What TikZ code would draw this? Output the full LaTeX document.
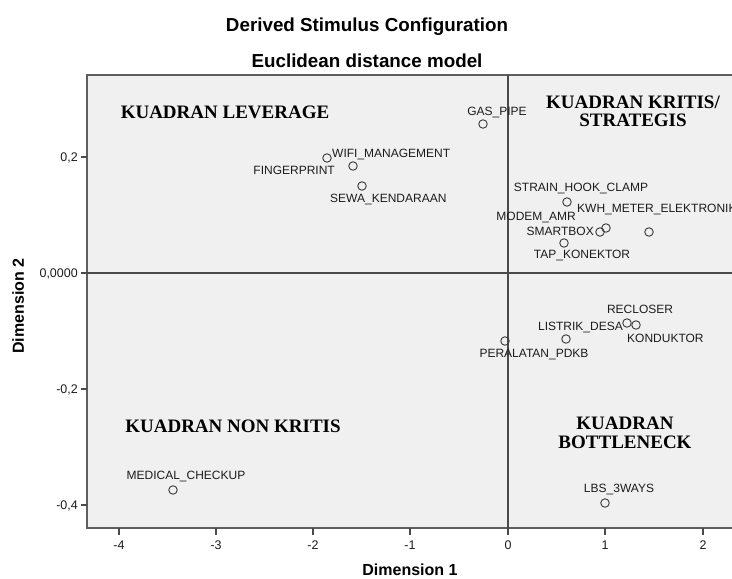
\documentclass[tikz,border=0pt]{standalone}
\usepackage{fontspec}
\setmainfont{Liberation Sans}
\newfontfamily\quadfont{Liberation Serif}
\definecolor{bgc}{HTML}{F0F0F0}
\definecolor{framec}{HTML}{5E5E5E}
\definecolor{axisc}{HTML}{4A4A4A}
\definecolor{ptc}{HTML}{3A3A3A}
\definecolor{labc}{HTML}{1C1C1C}
\tikzset{
  frameline/.style={draw=framec, line width=1.6bp, fill=bgc},
  axisline/.style={draw=axisc, line width=1.5bp},
  tickline/.style={draw=axisc, line width=1.2bp},
  pt/.style={circle, draw=ptc, line width=0.9bp, minimum size=8.5bp, inner sep=0pt},
  lab/.style={font=\fontsize{12bp}{14bp}\selectfont, text=labc, inner sep=0pt, text height=8.6bp, text depth=0pt},
  ticklab/.style={font=\fontsize{12.5bp}{14bp}\selectfont, text=labc, inner sep=0pt, text height=9bp, text depth=0pt},
  quad/.style={font=\quadfont\bfseries\fontsize{19bp}{19bp}\selectfont, text=black, inner sep=0pt, text height=12.6bp, text depth=0pt},
  ttl/.style={font=\bfseries\fontsize{18.8bp}{20bp}\selectfont, text=black, inner sep=0pt, text height=13.5bp, text depth=0pt},
  axttl/.style={font=\bfseries\fontsize{16bp}{18bp}\selectfont, text=black, inner sep=0pt, text height=11.5bp, text depth=0pt}
}
\begin{document}
\begin{tikzpicture}[x=1bp,y=-1bp]
\useasboundingbox (0,0) rectangle (732,579);
\clip (0,0) rectangle (732,579);
\fill[white] (0,0) rectangle (732,579);
% titles
\node[ttl] (title1) at (367,25) {Derived Stimulus Configuration};
\node[ttl] (title2) at (367,61) {Euclidean distance model};
% frame
\coordinate (TL) at (87,75);
\coordinate (BR) at (745,528);
\draw[frameline] (TL) rectangle (BR);
% axes through origin
\coordinate (vtop) at (508,75);
\coordinate (vbot) at (508,528);
\coordinate (hleft) at (87,273);
\coordinate (hright) at (745,273);
\draw[axisline] (vtop) -- (vbot);
\draw[axisline] (hleft) -- (hright);
% y ticks
\foreach \y/\t [count=\i] in {157/{0,2}, 273/{0,0000}, 389/{-0,2}, 505/{-0,4}}{
  \coordinate (yt\i a) at (81,\y);
  \coordinate (yt\i b) at (87,\y);
  \draw[tickline] (yt\i a) -- (yt\i b);
  \node[ticklab, anchor=east] (ytl\i) at (78,\y) {\t};
}
% x ticks
\foreach \x/\t [count=\i] in {119/-4, 216/-3, 313/-2, 410/-1, 508/0, 605/1, 703/2}{
  \coordinate (xt\i a) at (\x,528);
  \coordinate (xt\i b) at (\x,535);
  \draw[tickline] (xt\i a) -- (xt\i b);
  \node[ticklab] (xtl\i) at (\x,545) {\t};
}
% axis titles
\node[axttl] (dim1) at (410,570) {Dimension 1};
\node[axttl, rotate=90] (dim2) at (18,306) {Dimension 2};
% quadrant labels
\node[quad] (qlev) at (225,112) {KUADRAN LEVERAGE};
\node[quad] (qkri1) at (633,102) {KUADRAN KRITIS/};
\node[quad] (qkri2) at (633,120) {STRATEGIS};
\node[quad] (qnon) at (233,426) {KUADRAN NON KRITIS};
\node[quad] (qbot1) at (625,423) {KUADRAN};
\node[quad] (qbot2) at (625,442) {BOTTLENECK};
% points
\node[pt] (p1) at (483,124) {};
\node[pt] (p2) at (327,158) {};
\node[pt] (p3) at (353,166) {};
\node[pt] (p4) at (362,186) {};
\node[pt] (p5) at (567,202) {};
\node[pt] (p6) at (600,232) {};
\node[pt] (p7) at (606,228) {};
\node[pt] (p8) at (649,232) {};
\node[pt] (p9) at (564,243) {};
\node[pt] (p10) at (627,323) {};
\node[pt] (p11) at (636,325) {};
\node[pt] (p12) at (566,339) {};
\node[pt] (p13) at (505,341) {};
\node[pt] (p14) at (173,490) {};
\node[pt] (p15) at (605,503) {};
% point labels
\node[lab] (l1) at (497,111) {GAS\_PIPE};
\node[lab, anchor=west] (l2) at (332,153) {WIFI\_MANAGEMENT};
\node[lab, anchor=east] (l3) at (335,170) {FINGERPRINT};
\node[lab, anchor=west] (l4) at (330,198) {SEWA\_KENDARAAN};
\node[lab] (l5) at (581,187) {STRAIN\_HOOK\_CLAMP};
\node[lab, anchor=east] (l6) at (576,216) {MODEM\_AMR};
\node[lab, anchor=west] (l7) at (577,208) {KWH\_METER\_ELEKTRONIK};
\node[lab, anchor=east] (l8) at (594,231) {SMARTBOX};
\node[lab] (l9) at (582,254) {TAP\_KONEKTOR};
\node[lab] (l10) at (640,309) {RECLOSER};
\node[lab, anchor=east] (l11) at (623,326) {LISTRIK\_DESA};
\node[lab, anchor=west] (l12) at (627,338) {KONDUKTOR};
\node[lab] (l13) at (534,353) {PERALATAN\_PDKB};
\node[lab] (l14) at (186,475) {MEDICAL\_CHECKUP};
\node[lab] (l15) at (619,488) {LBS\_3WAYS};
\end{tikzpicture}
\end{document}
